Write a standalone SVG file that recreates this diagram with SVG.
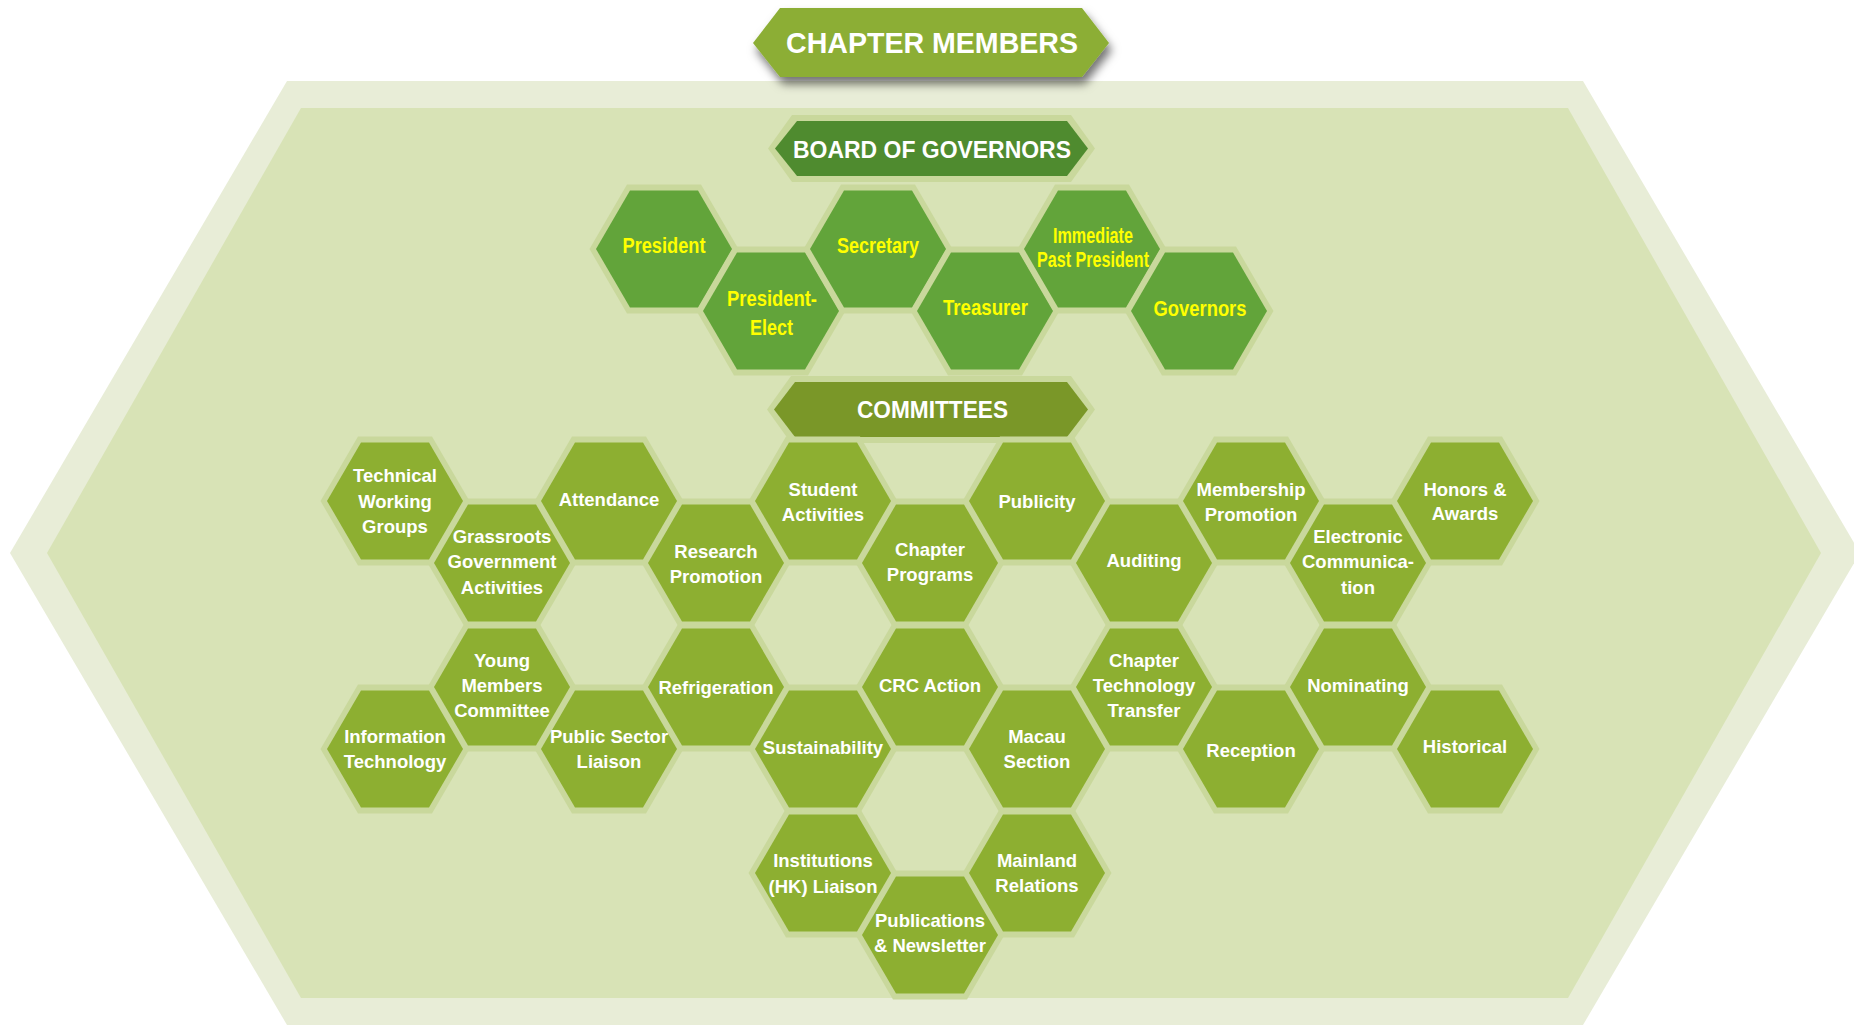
<svg xmlns="http://www.w3.org/2000/svg" xmlns:xlink="http://www.w3.org/1999/xlink" width="1854" height="1025" viewBox="0 0 1854 1025">
<style>
.bd{fill:#C9D89C}
.cf{fill:#8DAF31}
.bf{fill:#62A43A}
.ct{font-family:"Liberation Sans",Arial,sans-serif;font-weight:bold;font-size:18.5px;fill:#FFFFFF;text-anchor:middle}
.bt{font-family:"Liberation Sans Narrow","Liberation Sans",Arial,sans-serif;font-weight:bold;font-size:22px;fill:#FFFF00;text-anchor:middle}
.ht{font-family:"Liberation Sans",Arial,sans-serif;font-weight:bold;fill:#FFFFFF;text-anchor:middle}
</style>
<defs>
<polygon id="hexB" points="-74.5,0 -37,-64.5 37,-64.5 74.5,0 37,64.5 -37,64.5"/>
<polygon id="hexF" points="-68,0 -34,-58.5 34,-58.5 68,0 34,58.5 -34,58.5"/>
<filter id="shadow" x="-20%" y="-40%" width="140%" height="200%">
<feDropShadow dx="3" dy="7" stdDeviation="5" flood-color="#000" flood-opacity="0.55"/>
</filter>
</defs>
<rect width="1854" height="1025" fill="#FFFFFF"/>
<g id="background">
<polygon points="10,553 287,81 1583,81 1860,553 1583,1025 287,1025" fill="#E8EDD7"/>
<polygon points="47,553 301,108 1568,108 1821,553 1568,998 301,998" fill="#D8E3B6"/>
</g>
<g id="n-title">
<polygon points="753,43 780,8 1082,8 1109,43 1082,77 780,77" fill="#8CAE34" filter="url(#shadow)"/>
<text class="ht" x="932" y="53" font-size="30" textLength="292" lengthAdjust="spacingAndGlyphs">CHAPTER MEMBERS</text>
</g>
<g id="n-board">
<polygon points="768,148.5 792,115 1071,115 1095,148.5 1071,182 792,182" class="bd"/>
<polygon points="775,148.5 797,121 1067,121 1088,148.5 1067,176 797,176" fill="#4F8B2F"/>
<text class="ht" x="932" y="158" font-size="23" textLength="278" lengthAdjust="spacingAndGlyphs">BOARD OF GOVERNORS</text>
</g>
<g id="board-members">
<g id="n-president"><use href="#hexB" x="664" y="249" class="bd"/><use href="#hexF" x="664" y="249" class="bf"/><text class="bt" x="664" y="253" textLength="83" lengthAdjust="spacingAndGlyphs">President</text></g>
<g id="n-president-elect"><use href="#hexB" x="771" y="311" class="bd"/><use href="#hexF" x="771" y="311" class="bf"/><text class="bt" x="772" y="306" textLength="90" lengthAdjust="spacingAndGlyphs">President-</text><text class="bt" x="771.5" y="335" textLength="43" lengthAdjust="spacingAndGlyphs">Elect</text></g>
<g id="n-secretary"><use href="#hexB" x="878" y="249" class="bd"/><use href="#hexF" x="878" y="249" class="bf"/><text class="bt" x="878" y="253" textLength="82" lengthAdjust="spacingAndGlyphs">Secretary</text></g>
<g id="n-treasurer"><use href="#hexB" x="985" y="311" class="bd"/><use href="#hexF" x="985" y="311" class="bf"/><text class="bt" x="985.5" y="315" textLength="85" lengthAdjust="spacingAndGlyphs">Treasurer</text></g>
<g id="n-immediate-past-president"><use href="#hexB" x="1092" y="249" class="bd"/><use href="#hexF" x="1092" y="249" class="bf"/><text class="bt" x="1093" y="243" font-size="21" textLength="80" lengthAdjust="spacingAndGlyphs">Immediate</text><text class="bt" x="1093" y="267" font-size="21" textLength="112" lengthAdjust="spacingAndGlyphs">Past President</text></g>
<g id="n-governors"><use href="#hexB" x="1199" y="311" class="bd"/><use href="#hexF" x="1199" y="311" class="bf"/><text class="bt" x="1200" y="316" textLength="93" lengthAdjust="spacingAndGlyphs">Governors</text></g>
</g>
<g id="n-committees">
<polygon points="767,409.5 791,376 1071,376 1095,409.5 1071,443 791,443" class="bd"/>
<polygon points="774,409.5 795,382 1067,382 1088,409.5 1067,437 795,437" fill="#7A9728"/>
<text class="ht" x="932.5" y="418" font-size="23" textLength="151" lengthAdjust="spacingAndGlyphs">COMMITTEES</text>
</g>
<g id="committee-borders">
<use href="#hexB" x="395" y="501" class="bd"/>
<use href="#hexB" x="502" y="563" class="bd"/>
<use href="#hexB" x="609" y="501" class="bd"/>
<use href="#hexB" x="716" y="563" class="bd"/>
<use href="#hexB" x="823" y="501" class="bd"/>
<use href="#hexB" x="930" y="563" class="bd"/>
<use href="#hexB" x="1037" y="501" class="bd"/>
<use href="#hexB" x="1144" y="563" class="bd"/>
<use href="#hexB" x="1251" y="501" class="bd"/>
<use href="#hexB" x="1358" y="563" class="bd"/>
<use href="#hexB" x="1465" y="501" class="bd"/>
<use href="#hexB" x="502" y="687" class="bd"/>
<use href="#hexB" x="395" y="749" class="bd"/>
<use href="#hexB" x="609" y="749" class="bd"/>
<use href="#hexB" x="716" y="687" class="bd"/>
<use href="#hexB" x="823" y="749" class="bd"/>
<use href="#hexB" x="930" y="687" class="bd"/>
<use href="#hexB" x="1037" y="749" class="bd"/>
<use href="#hexB" x="1144" y="687" class="bd"/>
<use href="#hexB" x="1251" y="749" class="bd"/>
<use href="#hexB" x="1358" y="687" class="bd"/>
<use href="#hexB" x="1465" y="749" class="bd"/>
<use href="#hexB" x="823" y="873" class="bd"/>
<use href="#hexB" x="930" y="935" class="bd"/>
<use href="#hexB" x="1037" y="873" class="bd"/>
</g>
<g id="committee-nodes">
<g id="n-technical-working-groups"><use href="#hexF" x="395" y="501" class="cf"/><text class="ct" x="395" y="482">Technical</text><text class="ct" x="395" y="508">Working</text><text class="ct" x="395" y="533">Groups</text></g>
<g id="n-grassroots"><use href="#hexF" x="502" y="563" class="cf"/><text class="ct" x="502" y="543">Grassroots</text><text class="ct" x="502" y="568">Government</text><text class="ct" x="502" y="594">Activities</text></g>
<g id="n-attendance"><use href="#hexF" x="609" y="501" class="cf"/><text class="ct" x="609" y="506">Attendance</text></g>
<g id="n-research-promotion"><use href="#hexF" x="716" y="563" class="cf"/><text class="ct" x="716" y="558">Research</text><text class="ct" x="716" y="583">Promotion</text></g>
<g id="n-student-activities"><use href="#hexF" x="823" y="501" class="cf"/><text class="ct" x="823" y="496">Student</text><text class="ct" x="823" y="521">Activities</text></g>
<g id="n-chapter-programs"><use href="#hexF" x="930" y="563" class="cf"/><text class="ct" x="930" y="556">Chapter</text><text class="ct" x="930" y="581">Programs</text></g>
<g id="n-publicity"><use href="#hexF" x="1037" y="501" class="cf"/><text class="ct" x="1037" y="508">Publicity</text></g>
<g id="n-auditing"><use href="#hexF" x="1144" y="563" class="cf"/><text class="ct" x="1144" y="567">Auditing</text></g>
<g id="n-membership-promotion"><use href="#hexF" x="1251" y="501" class="cf"/><text class="ct" x="1251" y="496">Membership</text><text class="ct" x="1251" y="521">Promotion</text></g>
<g id="n-electronic-communication"><use href="#hexF" x="1358" y="563" class="cf"/><text class="ct" x="1358" y="543">Electronic</text><text class="ct" x="1358" y="568">Communica-</text><text class="ct" x="1358" y="594">tion</text></g>
<g id="n-honors-awards"><use href="#hexF" x="1465" y="501" class="cf"/><text class="ct" x="1465" y="496">Honors &amp;</text><text class="ct" x="1465" y="520">Awards</text></g>
<g id="n-young-members"><use href="#hexF" x="502" y="687" class="cf"/><text class="ct" x="502" y="667">Young</text><text class="ct" x="502" y="692">Members</text><text class="ct" x="502" y="717">Committee</text></g>
<g id="n-information-technology"><use href="#hexF" x="395" y="749" class="cf"/><text class="ct" x="395" y="743">Information</text><text class="ct" x="395" y="768">Technology</text></g>
<g id="n-public-sector-liaison"><use href="#hexF" x="609" y="749" class="cf"/><text class="ct" x="609" y="743">Public Sector</text><text class="ct" x="609" y="768">Liaison</text></g>
<g id="n-refrigeration"><use href="#hexF" x="716" y="687" class="cf"/><text class="ct" x="716" y="694">Refrigeration</text></g>
<g id="n-sustainability"><use href="#hexF" x="823" y="749" class="cf"/><text class="ct" x="823" y="754">Sustainability</text></g>
<g id="n-crc-action"><use href="#hexF" x="930" y="687" class="cf"/><text class="ct" x="930" y="692">CRC Action</text></g>
<g id="n-macau-section"><use href="#hexF" x="1037" y="749" class="cf"/><text class="ct" x="1037" y="743">Macau</text><text class="ct" x="1037" y="768">Section</text></g>
<g id="n-chapter-technology-transfer"><use href="#hexF" x="1144" y="687" class="cf"/><text class="ct" x="1144" y="667">Chapter</text><text class="ct" x="1144" y="692">Technology</text><text class="ct" x="1144" y="717">Transfer</text></g>
<g id="n-reception"><use href="#hexF" x="1251" y="749" class="cf"/><text class="ct" x="1251" y="757">Reception</text></g>
<g id="n-nominating"><use href="#hexF" x="1358" y="687" class="cf"/><text class="ct" x="1358" y="692">Nominating</text></g>
<g id="n-historical"><use href="#hexF" x="1465" y="749" class="cf"/><text class="ct" x="1465" y="753">Historical</text></g>
<g id="n-institutions-liaison"><use href="#hexF" x="823" y="873" class="cf"/><text class="ct" x="823" y="867">Institutions</text><text class="ct" x="823" y="893">(HK) Liaison</text></g>
<g id="n-publications-newsletter"><use href="#hexF" x="930" y="935" class="cf"/><text class="ct" x="930" y="927">Publications</text><text class="ct" x="930" y="952">&amp; Newsletter</text></g>
<g id="n-mainland-relations"><use href="#hexF" x="1037" y="873" class="cf"/><text class="ct" x="1037" y="867">Mainland</text><text class="ct" x="1037" y="892">Relations</text></g>
</g>
<g id="connectors"></g>
</svg>
